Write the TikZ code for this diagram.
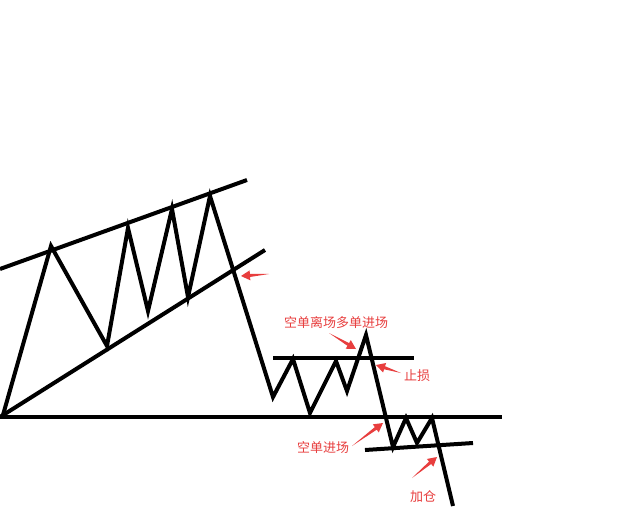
\documentclass[tikz,border=0pt]{standalone}
\usepackage{fontspec}
\newfontfamily\cjk{Noto Sans CJK SC}
\usetikzlibrary{calc}
\definecolor{mred}{RGB}{232,62,62}
\tikzset{
  chart/.style={line width=4pt, black},
  lbl/.style={text=mred, font=\cjk\fontsize{13}{13}\selectfont, inner sep=0pt},
}
\newcommand{\redarrow}[2]{%
  \path ($(#2)!9pt!(#1)$) coordinate (hh);
  \fill[mred] (#1) -- ($(hh)!1.6pt!90:(#2)$) -- ($(hh)!5pt!90:(#2)$) -- (#2)
     -- ($(hh)!5pt!-90:(#2)$) -- ($(hh)!1.6pt!-90:(#2)$) -- cycle;}
\begin{document}
\begin{tikzpicture}[x=1pt,y=-1pt]
\useasboundingbox[fill=white] (0,0) rectangle (640,512);
% channel and support lines
\draw[chart] (0,269) -- (247,180);
\draw[chart] (0,417) -- (265,250);
\draw[chart] (0,417) -- (502,417);
\draw[chart] (273,358) -- (414,358);
\draw[chart] (365,450) -- (473,443);
% price zigzag
\draw[chart] (3,415) -- (51,246) -- (107,346) -- (128,228) -- (148,311)
  -- (172,209) -- (188,297) -- (210,196) -- (273,397) -- (293,359)
  -- (310,413) -- (336,361) -- (347,391) -- (366,335) -- (393,447)
  -- (406,418) -- (417,443) -- (432,418) -- (453,506);
% labels
\node[lbl] (t1) at (336,323) {空单离场多单进场};
\node[lbl] (t2) at (417,376) {止损};
\node[lbl] (t3) at (323,448) {空单进场};
\node[lbl] (t4) at (423,497) {加仓};
% arrows
\coordinate (a1s) at (269,274); \coordinate (a1e) at (241,276);
\coordinate (a2s) at (329,333); \coordinate (a2e) at (356,349);
\coordinate (a3s) at (401,373); \coordinate (a3e) at (376,365);
\coordinate (a4s) at (352,446); \coordinate (a4e) at (383,423);
\coordinate (a5s) at (412,478); \coordinate (a5e) at (437,457);
\redarrow{a1s}{a1e}
\redarrow{a2s}{a2e}
\redarrow{a3s}{a3e}
\redarrow{a4s}{a4e}
\redarrow{a5s}{a5e}
\end{tikzpicture}
\end{document}
